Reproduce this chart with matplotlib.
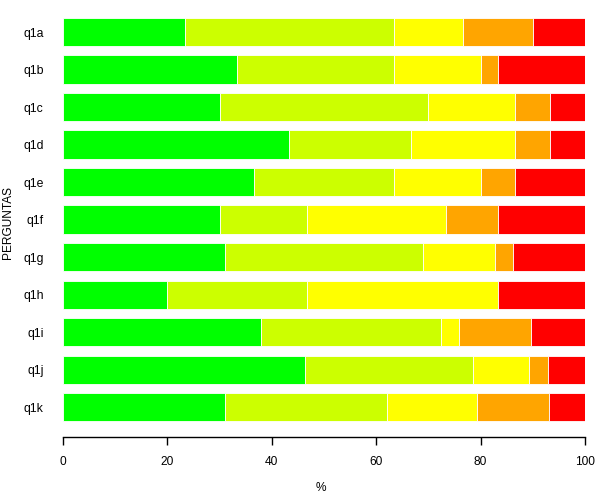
import numpy as np
from matplotlib import pyplot as plt

# answer counts per question (percent of row total)
perguntas = ['q1a', 'q1b', 'q1c', 'q1d', 'q1e', 'q1f', 'q1g', 'q1h', 'q1i', 'q1j', 'q1k']
cat1 = [7, 10, 9, 13, 11, 9, 9, 6, 11, 13, 9]
cat2 = [12, 9, 12, 7, 8, 5, 11, 8, 10, 9, 9]
cat3 = [4, 5, 5, 6, 5, 8, 4, 11, 1, 3, 5]
cat4 = [4, 1, 2, 2, 2, 3, 1, 0, 4, 1, 4]
cat5 = [3, 5, 2, 2, 4, 5, 4, 5, 3, 2, 2]
cores = ['#00FF00', '#CCFF00', '#FFFF00', '#FFA500', '#FF0000']

counts = np.array([cat1, cat2, cat3, cat4, cat5], dtype=float)
pct = counts / counts.sum(axis=0) * 100

fig = plt.figure(figsize=(6, 4.95), dpi=100)
ax = fig.add_axes([0.105, 0.117, 0.87, 0.863])

ypos = np.arange(len(perguntas))[::-1]
left = np.zeros(len(perguntas))
for k in range(len(cores)):
    ax.barh(ypos, pct[k], left=left, height=0.75, color=cores[k],
            edgecolor='white', linewidth=0.6)
    left += pct[k]

ax.set_xlim(0, 100)
ax.set_ylim(-0.8, 10.59)
ax.set_yticks(ypos)
ax.set_yticklabels(perguntas, fontsize=8.8, family='Liberation Sans')
ax.tick_params(axis='y', length=0, pad=14)
ax.set_xticks([0, 20, 40, 60, 80, 100])
ax.set_xticklabels(['0', '20', '40', '60', '80', '100'], fontsize=8.6, family='Liberation Sans')
ax.tick_params(axis='x', length=5.8, width=1, pad=8)

for s in ['top', 'right', 'left']:
    ax.spines[s].set_visible(False)
ax.spines['bottom'].set_bounds(0, 100)
ax.spines['bottom'].set_linewidth(1)

fig.text(0.535, 0.014, '%', ha='center', va='center', fontsize=8.6, family='Liberation Sans')
fig.text(0.014, 0.55, 'PERGUNTAS', ha='center', va='center', rotation=90,
         fontsize=8.6, family='Liberation Sans')

fig.savefig('out.png', dpi=100)
